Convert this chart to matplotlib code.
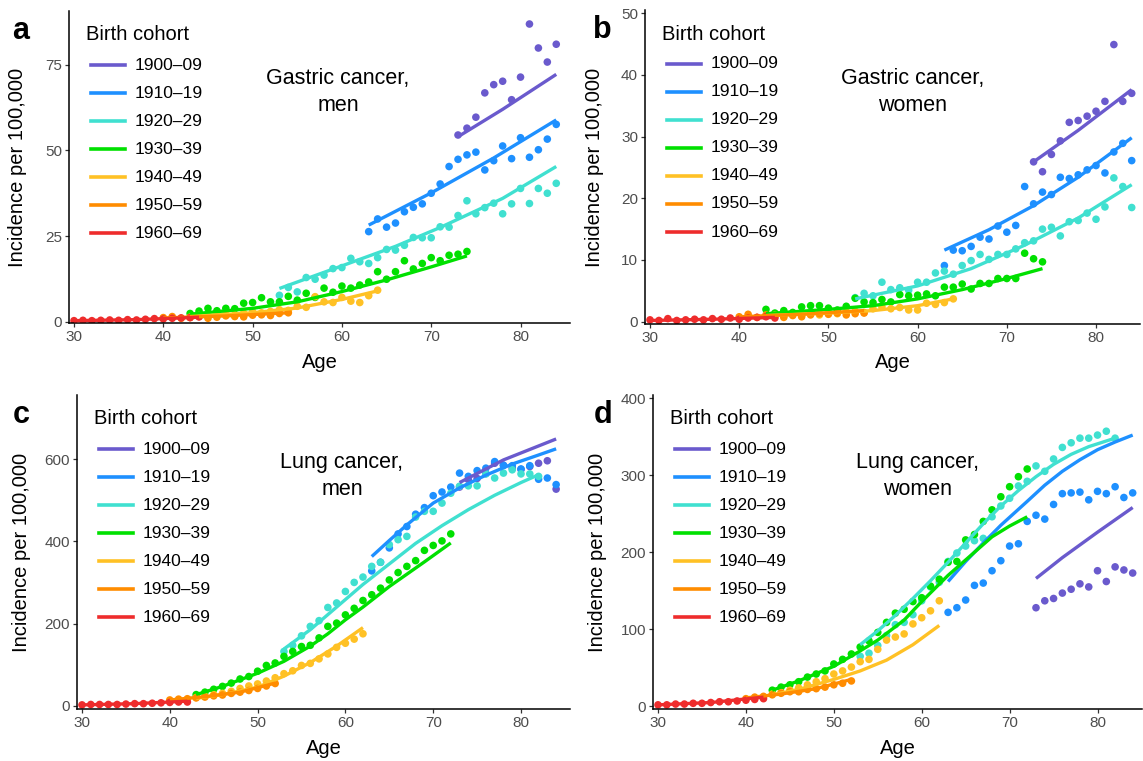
import numpy as np
import matplotlib
matplotlib.use("Agg")
import matplotlib.pyplot as plt
from matplotlib.lines import Line2D

plt.rcParams['font.family'] = ['Liberation Sans', 'DejaVu Sans']

cohorts = ['1900–09', '1910–19', '1920–29', '1930–39', '1940–49', '1950–59', '1960–69']
colors = ['#6A5ACD', '#1E90FF', '#40E0D0', '#00E000', '#FFC125', '#FF8C00', '#EE2C2C']
start_age = [73, 63, 53, 43, 43, 40, 30]

# gastric cancer, men (observed, one value per year of age from start_age)
gm_points = {
    '1900–09': [54.5, 56.5, 59.7, 66.8, 69.2, 70.2, 64.8, 71.4, 86.9, 79.9, 75.8, 81.0],
    '1910–19': [26.3, 30.0, 27.6, 28.8, 32.1, 33.4, 34.4, 37.5, 40.2, 45.3, 47.4, 48.7, 49.5, 44.3,
                47.0, 51.3, 47.6, 53.7, 48.0, 50.2, 53.3, 57.6],
    '1920–29': [7.7, 10.0, 8.7, 12.9, 12.4, 13.6, 15.5, 15.8, 18.5, 17.5, 17.0, 18.7, 21.1, 20.9,
                22.3, 24.6, 24.5, 24.5, 27.7, 27.6, 31.0, 35.3, 31.5, 33.3, 34.6, 31.5, 34.4, 38.9,
                34.5, 38.9, 37.5, 40.4],
    '1930–39': [2.4, 3.1, 3.9, 3.2, 3.9, 3.8, 5.4, 5.6, 7.0, 5.8, 5.8, 7.4, 6.3, 8.3, 7.1, 9.8,
                8.6, 10.4, 9.8, 10.7, 11.6, 14.6, 12.4, 14.6, 17.8, 15.4, 17.0, 18.7, 17.8, 19.4,
                19.7, 20.5],
    '1940–49': [1.3, 1.8, 1.5, 2.0, 2.3, 2.0, 2.5, 2.9, 2.6, 3.0, 3.5, 3.3, 4.5, 4.2, 7.3, 5.8,
                5.6, 7.1, 6.0, 5.6, 7.6, 9.2],
    '1950–59': [1.2, 1.5, 1.0, 1.2, 1.5, 1.0, 1.3, 1.7, 1.5, 1.4, 1.9, 2.0, 1.8, 2.4, 2.6],
    '1960–69': [0.3, 0.4, 0.3, 0.4, 0.5, 0.4, 0.6, 0.5, 0.7, 0.9, 0.8, 1.0, 1.1, 1.2, 1.4],
}
gm_fit = {
    '1900–09': ([73, 78, 84], [54.0, 62.0, 72.2]),
    '1910–19': ([63, 70, 77, 84], [28.2, 37.6, 47.8, 58.9]),
    '1920–29': ([53, 60, 66, 71, 78, 84], [9.7, 16.3, 22.0, 27.5, 36.0, 45.3]),
    '1930–39': ([43, 50, 55, 60, 65, 70, 74], [2.2, 3.9, 5.8, 8.8, 12.2, 16.0, 19.2]),
    '1940–49': ([43, 50, 55, 60, 64], [1.5, 2.6, 4.0, 6.5, 9.0]),
    '1950–59': ([40, 47, 54], [1.1, 1.7, 2.6]),
    '1960–69': ([30, 37, 44], [0.3, 0.6, 1.3]),
}

# gastric cancer, women
gw_points = {
    '1900–09': [25.9, 24.3, 27.1, 29.3, 32.3, 32.6, 33.3, 34.1, 35.7, 44.9, 35.7, 37.0],
    '1910–19': [9.1, 11.6, 11.5, 12.2, 13.7, 13.4, 15.5, 14.5, 15.6, 21.9, 19.1, 21.0, 20.6, 23.4,
                23.2, 23.8, 24.6, 25.3, 24.1, 27.5, 28.9, 26.1],
    '1920–29': [3.9, 4.6, 4.2, 6.4, 5.2, 5.5, 5.1, 6.4, 6.4, 7.9, 8.2, 7.7, 9.1, 9.9, 10.9, 10.1,
                10.9, 10.9, 11.8, 12.8, 13.1, 15.0, 15.3, 13.9, 16.2, 16.4, 17.6, 16.6, 18.6, 23.3,
                21.9, 18.5],
    '1930–39': [2.0, 1.4, 1.8, 1.5, 2.4, 2.6, 2.6, 2.2, 1.9, 2.5, 3.8, 3.2, 3.1, 3.6, 3.2, 4.4,
                4.2, 4.3, 4.5, 4.2, 5.6, 5.6, 6.1, 5.3, 6.2, 6.2, 7.0, 7.0, 7.0, 11.1, 10.2, 9.7],
    '1940–49': [0.9, 1.1, 0.9, 1.2, 1.0, 1.3, 1.1, 1.4, 1.3, 1.6, 1.7, 1.5, 2.1, 2.4, 2.1, 2.3,
                1.9, 1.9, 3.0, 2.8, 3.1, 3.7],
    '1950–59': [0.8, 1.2, 0.7, 1.1, 0.9, 0.7, 1.0, 0.8, 1.1, 1.3, 1.2, 1.4, 1.1, 1.3, 1.4],
    '1960–69': [0.3, 0.2, 0.5, 0.2, 0.3, 0.4, 0.3, 0.5, 0.4, 0.6, 0.4, 0.6, 0.7, 0.8, 0.6],
}
gw_fit = {
    '1900–09': ([73, 78, 84], [25.9, 31.0, 37.6]),
    '1910–19': ([63, 68, 73, 78, 84], [11.6, 14.9, 18.8, 23.4, 29.8]),
    '1920–29': ([53, 60, 66, 72, 78, 84], [3.7, 5.8, 8.6, 12.4, 16.8, 22.2]),
    '1930–39': ([43, 50, 55, 60, 65, 70, 74], [1.3, 2.0, 2.6, 3.7, 5.2, 7.0, 8.6]),
    '1940–49': ([43, 50, 55, 60, 64], [1.0, 1.4, 1.8, 2.6, 3.7]),
    '1950–59': ([40, 47, 54], [0.8, 1.2, 1.8]),
    '1960–69': ([30, 37, 44], [0.2, 0.4, 0.7]),
}

# lung cancer, men
lm_points = {
    '1900–09': [532, 550, 553, 565, 590, 585, 578, 575, 582, 590, 596, 527],
    '1910–19': [328, 349, 384, 418, 436, 466, 482, 511, 520, 532, 566, 558, 572, 578, 594, 585,
                584, 576, 584, 551, 554, 538],
    '1920–29': [132, 147, 170, 193, 207, 239, 250, 278, 300, 313, 339, 349, 392, 404, 412, 459,
                473, 473, 493, 517, 534, 535, 535, 564, 554, 566, 574, 564, 564, 558],
    '1930–39': [27, 33, 40, 47, 55, 65, 71, 84, 98, 104, 120, 132, 144, 147, 165, 193, 201, 221,
                237, 256, 270, 286, 306, 324, 339, 353, 378, 390, 401, 418],
    '1940–49': [20, 23, 27, 30, 35, 42, 48, 53, 60, 68, 78, 85, 98, 103, 114, 126, 142, 152, 162, 175],
    '1950–59': [14, 16, 17, 19, 21, 24, 26, 30, 33, 37, 42, 48, 54],
    '1960–69': [2, 3, 3, 3, 3, 4, 5, 5, 6, 7, 8, 9, 9],
}
lm_fit = {
    '1900–09': ([73, 78, 84], [543, 598, 649]),
    '1910–19': ([63, 65, 67, 70, 73, 76, 79, 82, 84], [363, 402, 440, 493, 530, 561, 588, 610, 625]),
    '1920–29': ([53, 56, 59, 62, 65, 68, 71, 74, 77, 80, 82],
                [138, 185, 240, 295, 345, 395, 438, 477, 512, 543, 562]),
    '1930–39': ([43, 46, 50, 53, 56, 58, 60, 62, 65, 67, 69, 72],
                [27, 47, 79, 108, 145, 175, 209, 240, 290, 320, 350, 396]),
    '1940–49': ([43, 46, 48, 50, 53, 56, 59, 62], [18, 27, 36, 45, 72, 105, 145, 190]),
    '1950–59': ([40, 44, 48, 52], [14, 22, 33, 55]),
    '1960–69': ([30, 36, 42], [2, 5, 11]),
}

# lung cancer, women
lw_points = {
    '1900–09': [128, 137, 140, 147, 152, 159, 155, 176, 162, 181, 177, 173],
    '1910–19': [122, 128, 138, 157, 160, 176, 189, 208, 211, 240, 248, 243, 262, 276, 277, 278,
                268, 279, 276, 285, 271, 277],
    '1920–29': [65, 69, 79, 92, 106, 109, 119, 137, 155, 161, 188, 199, 208, 215, 218, 246, 260,
                270, 286, 292, 312, 305, 321, 336, 342, 348, 348, 352, 357, 348],
    '1930–39': [21, 25, 28, 32, 38, 42, 46, 55, 61, 68, 77, 85, 96, 109, 121, 126, 136, 141, 156,
                165, 187, 188, 216, 223, 240, 255, 272, 285, 298, 308],
    '1940–49': [16, 18, 21, 24, 28, 32, 36, 42, 46, 51, 58, 61, 74, 86, 90, 94, 107, 115, 124, 137],
    '1950–59': [10, 12, 13, 15, 17, 19, 19, 22, 23, 25, 28, 30, 33],
    '1960–69': [2, 2, 3, 3, 4, 4, 5, 6, 6, 7, 8, 9, 10],
}
lw_fit = {
    '1900–09': ([73, 76, 80, 84], [166, 193, 226, 258]),
    '1910–19': ([63, 65, 67, 69, 72, 74, 76, 78, 80, 82, 84],
                [162, 188, 212, 235, 266, 287, 305, 320, 333, 343, 352]),
    '1920–29': ([53, 55, 57, 59, 61, 63, 65, 67, 69, 71, 73, 75, 77, 79, 82],
                [80, 98, 118, 140, 163, 187, 212, 237, 260, 280, 298, 314, 327, 337, 348]),
    '1930–39': ([43, 46, 50, 53, 55, 58, 60, 63, 65, 68, 70, 72],
                [21, 33, 52, 72, 86, 112, 136, 170, 190, 220, 234, 246]),
    '1940–49': ([43, 46, 50, 53, 56, 59, 62], [15, 22, 35, 46, 60, 80, 105]),
    '1950–59': ([40, 44, 48, 52], [11, 16, 23, 35]),
    '1960–69': ([30, 36, 42], [2, 5, 12]),
}

W, H = 1143, 761
fig = plt.figure(figsize=(W / 100, H / 100), dpi=100)


def ftext(x, y, s, **kw):
    fig.text(x / W, 1 - y / H, s, **kw)


panels = [
    # letter, points, fit, axes box (l, t, r, b) in px, xlim, ylim, yticks, annotation + xy,
    # y-label x, letter x
    ('a', gm_points, gm_fit, (69, 11, 570, 323), (29.44, 85.54), (-0.38, 90.7),
     [0, 25, 50, 75], 'Gastric cancer,\nmen', (338, 92), 18, 21),
    ('b', gw_points, gw_fit, (645, 10, 1140, 324), (29.44, 84.93), (-0.37, 50.5),
     [0, 10, 20, 30, 40, 50], 'Gastric cancer,\nwomen', (913, 92), 594, 602),
    ('c', lm_points, lm_fit, (77, 395, 570, 709), (29.43, 85.58), (-8, 756),
     [0, 200, 400, 600], 'Lung cancer,\nmen', (342, 476), 22, 21),
    ('d', lw_points, lw_fit, (653, 395, 1142, 709), (29.43, 85.06), (-3.4, 404),
     [0, 100, 200, 300, 400], 'Lung cancer,\nwomen', (918, 476), 598, 603),
]

for letter, pts, fit, box, xlim, ylim, yticks, title, txy, ylab_x, let_x in panels:
    l, t, r, b = box
    ax = fig.add_axes([l / W, 1 - b / H, (r - l) / W, (b - t) / H])
    for c, col, s0 in zip(cohorts, colors, start_age):
        vals = pts[c]
        ages = np.arange(s0, s0 + len(vals))
        ax.scatter(ages, vals, s=30, color=col, edgecolors='none', zorder=2)
    for c, col in zip(cohorts, colors):
        fa, fv = fit[c]
        ax.plot(fa, fv, color=col, lw=2.4, solid_capstyle='butt', zorder=3)
    ax.set_xlim(*xlim)
    ax.set_ylim(*ylim)
    ax.set_xticks([30, 40, 50, 60, 70, 80])
    ax.set_yticks(yticks)
    for side in ['top', 'right']:
        ax.spines[side].set_visible(False)
    for side in ['left', 'bottom']:
        ax.spines[side].set_linewidth(1.1)
    ax.tick_params(length=3, width=0.9, color='#333333', labelcolor='#4D4D4D',
                   labelsize=11, pad=2)

    ftext(ylab_x, (t + b) / 2, 'Incidence per 100,000', rotation=90, ha='center',
          va='center', fontsize=14.5)
    ftext((l + r) / 2, b + 39, 'Age', ha='center', va='center', fontsize=14.5)
    ftext(let_x, t + 20, letter, ha='center', va='center', fontsize=22, fontweight='bold')
    ftext(txy[0], txy[1], title, ha='center', va='center', fontsize=15.5, linespacing=1.35)

    # legend
    ftext(l + 17, t + 24, 'Birth cohort', ha='left', va='center', fontsize=14.5)
    for i, (c, col) in enumerate(zip(cohorts, colors)):
        yy = 1 - (t + 54 + 28 * i) / H
        fig.add_artist(Line2D([(l + 22) / W, (l + 56) / W], [yy, yy], color=col, lw=2.6,
                              transform=fig.transFigure))
        ftext(l + 66, t + 54 + 28 * i, c, ha='left', va='center', fontsize=12.5)

fig.savefig('out.png', dpi=100)
